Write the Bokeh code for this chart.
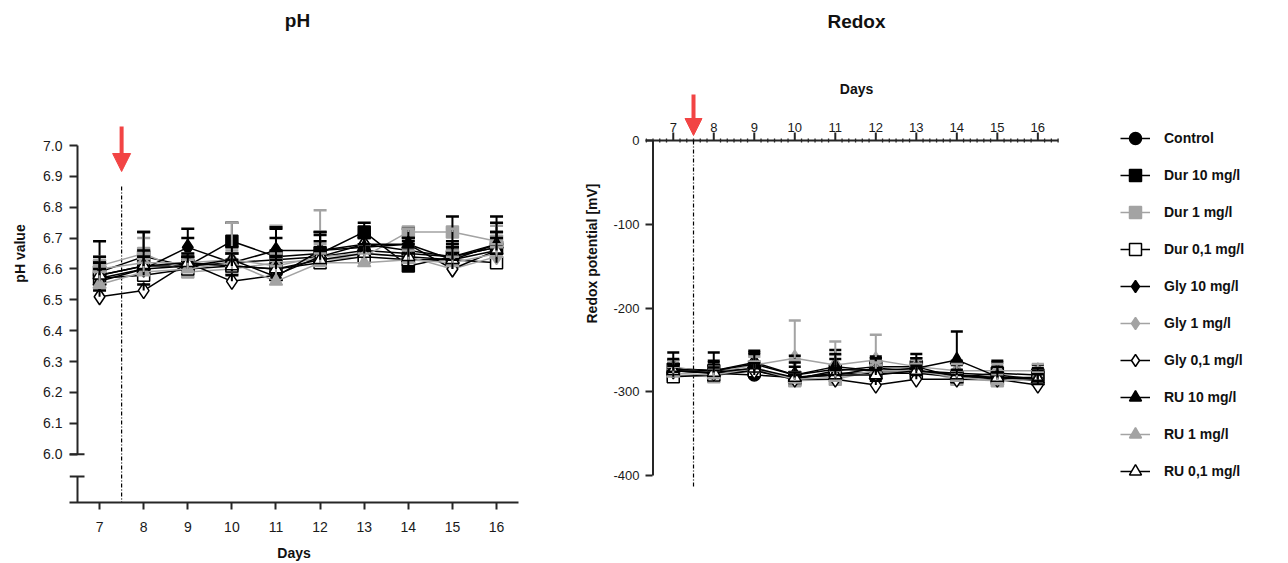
from bokeh.plotting import figure
from bokeh.layouts import row
from bokeh.models import (ColumnDataSource, Whisker, TeeHead, Arrow, NormalHead, Legend,
                          LegendItem, FixedTicker, Range1d, PrintfTickFormatter)
from bokeh.core.properties import value
from bokeh.embed import file_html
from bokeh.resources import INLINE

# ---------------- data ----------------
days = [7, 8, 9, 10, 11, 12, 13, 14, 15, 16]
series_names = ["Control", "Dur 10 mg/l", "Dur 1 mg/l", "Dur 0,1 mg/l", "Gly 10 mg/l",
                "Gly 1 mg/l", "Gly 0,1 mg/l", "RU 10 mg/l", "RU 1 mg/l", "RU 0,1 mg/l"]
treatment_day = 7.5
ph_ticks = [6.0, 6.1, 6.2, 6.3, 6.4, 6.5, 6.6, 6.7, 6.8, 6.9, 7.0]
redox_ticks = [0, -100, -200, -300, -400]

ph_control = [6.58, 6.61, 6.61, 6.62, 6.63, 6.64, 6.66, 6.65, 6.64, 6.68]
ph_dur10   = [6.59, 6.64, 6.61, 6.69, 6.64, 6.65, 6.72, 6.61, 6.64, 6.67]
ph_dur1    = [6.61, 6.65, 6.59, 6.60, 6.62, 6.63, 6.64, 6.72, 6.72, 6.69]
ph_dur01   = [6.57, 6.58, 6.60, 6.61, 6.60, 6.62, 6.64, 6.63, 6.63, 6.62]
ph_gly10   = [6.57, 6.60, 6.67, 6.62, 6.66, 6.66, 6.68, 6.66, 6.64, 6.67]
ph_gly1    = [6.60, 6.62, 6.62, 6.63, 6.61, 6.64, 6.65, 6.64, 6.60, 6.64]
ph_gly01   = [6.51, 6.53, 6.62, 6.56, 6.58, 6.64, 6.68, 6.68, 6.60, 6.66]
ph_ru10    = [6.56, 6.60, 6.61, 6.63, 6.575, 6.66, 6.67, 6.68, 6.63, 6.68]
ph_ru1     = [6.55, 6.59, 6.60, 6.62, 6.56, 6.62, 6.62, 6.63, 6.62, 6.65]
ph_ru01    = [6.58, 6.61, 6.62, 6.61, 6.60, 6.63, 6.65, 6.64, 6.63, 6.66]

ph_sd_control = [0.04, 0.03, 0.03, 0.03, 0.03, 0.05, 0.04, 0.03, 0.03, 0.04]
ph_sd_dur10   = [0.10, 0.08, 0.09, 0.06, 0.06, 0.07, 0.03, 0.12, 0.13, 0.10]
ph_sd_dur1    = [0.03, 0.05, 0.04, 0.15, 0.12, 0.16, 0.04, 0.01, 0.01, 0.05]
ph_sd_dur01   = [0.03, 0.02, 0.03, 0.02, 0.03, 0.03, 0.02, 0.02, 0.03, 0.03]
ph_sd_gly10   = [0.05, 0.12, 0.06, 0.03, 0.07, 0.05, 0.03, 0.03, 0.04, 0.05]
ph_sd_gly1    = [0.03, 0.03, 0.03, 0.03, 0.04, 0.04, 0.03, 0.03, 0.04, 0.03]
ph_sd_gly01   = [0.02, 0.02, 0.02, 0.02, 0.03, 0.02, 0.02, 0.02, 0.03, 0.02]
ph_sd_ru10    = [0.08, 0.06, 0.03, 0.04, 0.16, 0.06, 0.04, 0.02, 0.06, 0.07]
ph_sd_ru1     = [0.04, 0.03, 0.03, 0.03, 0.05, 0.03, 0.03, 0.03, 0.04, 0.03]
ph_sd_ru01    = [0.04, 0.03, 0.03, 0.04, 0.04, 0.04, 0.03, 0.03, 0.04, 0.04]

rx_control = [-275, -278, -280, -283, -280, -272, -275, -280, -285, -283]
rx_dur10   = [-273, -275, -273, -285, -275, -270, -270, -283, -278, -280]
rx_dur1    = [-280, -282, -270, -287, -285, -275, -275, -285, -287, -285]
rx_dur01   = [-282, -280, -275, -283, -278, -278, -278, -282, -283, -283]
rx_gly10   = [-272, -275, -265, -280, -273, -275, -275, -278, -280, -285]
rx_gly1    = [-270, -278, -268, -260, -268, -262, -270, -275, -275, -275]
rx_gly01   = [-275, -278, -275, -285, -285, -292, -285, -285, -285, -292]
rx_ru10    = [-273, -275, -267, -280, -270, -275, -272, -262, -282, -287]
rx_ru1     = [-278, -280, -272, -285, -283, -275, -275, -283, -287, -285]
rx_ru01    = [-275, -277, -272, -283, -280, -280, -275, -280, -283, -285]

rx_sd_control = [8, 6, 8, 6, 8, 8, 8, 6, 6, 6]
rx_sd_dur10   = [20, 22, 20, 28, 25, 12, 15, 15, 15, 12]
rx_sd_dur1    = [10, 8, 12, 25, 45, 12, 8, 8, 8, 10]
rx_sd_dur01   = [6, 6, 6, 6, 6, 6, 6, 6, 6, 6]
rx_sd_gly10   = [10, 12, 14, 10, 12, 15, 15, 15, 15, 10]
rx_sd_gly1    = [8, 8, 10, 45, 12, 30, 8, 8, 8, 8]
rx_sd_gly01   = [5, 5, 5, 5, 5, 5, 5, 5, 5, 5]
rx_sd_ru10    = [12, 10, 12, 15, 15, 15, 12, 34, 12, 15]
rx_sd_ru1     = [8, 8, 8, 8, 8, 10, 8, 8, 8, 8]
rx_sd_ru01    = [6, 6, 6, 6, 6, 6, 6, 6, 6, 6]

ph_means = [ph_control, ph_dur10, ph_dur1, ph_dur01, ph_gly10, ph_gly1, ph_gly01, ph_ru10, ph_ru1, ph_ru01]
ph_sds = [ph_sd_control, ph_sd_dur10, ph_sd_dur1, ph_sd_dur01, ph_sd_gly10, ph_sd_gly1, ph_sd_gly01,
          ph_sd_ru10, ph_sd_ru1, ph_sd_ru01]
rx_means = [rx_control, rx_dur10, rx_dur1, rx_dur01, rx_gly10, rx_gly1, rx_gly01, rx_ru10, rx_ru1, rx_ru01]
rx_sds = [rx_sd_control, rx_sd_dur10, rx_sd_dur1, rx_sd_dur01, rx_sd_gly10, rx_sd_gly1, rx_sd_gly01,
          rx_sd_ru10, rx_sd_ru1, rx_sd_ru01]

# ---------------- styles ----------------
BLACK = "#000000"
GRAY = "#a3a3a3"
RED = "#f24444"
AXIS = "#262626"
TXT = "#111111"
FONT = "Liberation Sans"
styles = [  # (marker, fill, line, size)
    ("circle", BLACK, BLACK, 12),
    ("square", BLACK, BLACK, 12),
    ("square", GRAY, GRAY, 12),
    ("square", "white", BLACK, 12),
    ("diamond", BLACK, BLACK, 16),
    ("diamond", GRAY, GRAY, 16),
    ("diamond", "white", BLACK, 16),
    ("triangle", BLACK, BLACK, 13),
    ("triangle", GRAY, GRAY, 13),
    ("triangle", "white", BLACK, 13),
]

FRAME_TOP, FRAME_BOTTOM = 4, 502     # shared frame rows of both panels (px)


def style_axis(ax, size):
    ax.major_label_text_font = FONT
    ax.major_label_text_font_size = size
    ax.major_label_text_color = "#1a1a1a"
    ax.axis_label_text_font = FONT
    ax.axis_label_text_font_style = "bold"
    ax.axis_label_text_font_size = "14px"
    ax.axis_label_text_color = TXT
    ax.major_tick_line_color = AXIS
    ax.major_tick_line_width = 2
    ax.minor_tick_line_color = None
    ax.axis_line_color = AXIS
    ax.axis_line_width = 2


def draw_series(p, means, sds, whisker_width):
    line_rs, marker_rs = [], []
    for (marker, fill, line, size), m, sd in zip(styles, means, sds):
        src = ColumnDataSource(dict(x=days, y=m, upper=[a + b for a, b in zip(m, sd)]))
        w = Whisker(base="x", lower="y", upper="upper", source=src, dimension="height",
                    line_color=line, line_width=2, lower_head=None,
                    upper_head=TeeHead(size=whisker_width, line_color=line, line_width=2.5))
        w.level = "glyph"
        p.add_layout(w)
        lr = p.line("x", "y", source=src, line_color=line, line_width=1.5)
        mr = p.scatter("x", "y", source=src, marker=marker, size=size, fill_color=fill,
                       line_color=line, line_width=1.5)
        line_rs.append(lr)
        marker_rs.append(mr)
    return line_rs, marker_rs


# ======================= pH panel =======================
ph_px = 308.7          # px per pH unit
ph_ref_y = 145         # px row of pH 7.0
day_px1 = 44.11        # px per day
frame_left1 = 69


def ph_at(py):
    return 7.0 + (ph_ref_y - py) / ph_px


x0_1 = 6.5 - 8 / day_px1
p1 = figure(frame_width=449, frame_height=FRAME_BOTTOM - FRAME_TOP,
            min_border_left=frame_left1, min_border_right=57,
            min_border_top=FRAME_TOP, min_border_bottom=61,
            x_range=Range1d(x0_1, x0_1 + 449 / day_px1),
            y_range=Range1d(ph_at(FRAME_BOTTOM), ph_at(FRAME_TOP)),
            output_backend="svg", toolbar_location=None)
p1.grid.visible = False
p1.outline_line_color = None

xa = p1.xaxis[0]
style_axis(xa, "14px")
xa.ticker = FixedTicker(ticks=days)
xa.major_tick_in = 0
xa.major_tick_out = 7
xa.major_label_standoff = 12
xa.axis_label = "Days"
xa.axis_label_standoff = 10

ya = p1.yaxis[0]
style_axis(ya, "14px")
ya.ticker = FixedTicker(ticks=ph_ticks)
ya.formatter = PrintfTickFormatter(format="%.1f")
ya.bounds = (ph_at(FRAME_BOTTOM), 7.0)
ya.major_tick_in = 8
ya.major_tick_out = 0
ya.axis_line_color = None
ya.major_label_standoff = 7
ya.axis_label = "pH value"
ya.axis_label_standoff = 12

y_lo1 = ph_at(FRAME_BOTTOM)
brk = ph_at(476)
stub = 6.5 + 7 / day_px1
# broken y axis: upper part, lower stub, and the break marks
p1.segment(x0=[6.5, 6.5, x0_1, x0_1], y0=[6.0, y_lo1, 6.0, brk],
           x1=[6.5, 6.5, stub, stub], y1=[7.0, brk, 6.0, brk],
           line_color=AXIS, line_width=2)
# treatment marker
p1.segment(x0=[treatment_day], y0=[ph_at(186)], x1=[treatment_day], y1=[y_lo1],
           line_color=BLACK, line_width=1.2, line_dash="4 2 1 2")
p1.add_layout(Arrow(x_start=treatment_day, y_start=ph_at(126), x_end=treatment_day, y_end=ph_at(171),
                    line_color=RED, line_width=4,
                    end=NormalHead(size=18, fill_color=RED, line_color=RED, line_width=1)))

draw_series(p1, ph_means, ph_sds, 13)

p1.text(x=[x0_1 + (297 - frame_left1) / day_px1], y=[ph_at(20)], text=["pH"],
        text_font=value(FONT), text_font_style="bold", text_font_size="19px",
        text_align="center", text_baseline="middle", text_color=TXT)

# ======================= Redox panel =======================
rx_px = 0.8375         # px per mV
rx_ref_y = 140         # px row of 0 mV
day_px2 = 40.51
frame_left2 = 645
frame_w2 = 640


def rx_at(py):
    return (rx_ref_y - py) / rx_px


x0_2 = 6.5 - 7.5 / day_px2
x_axis_end2 = 16.5
p2 = figure(frame_width=frame_w2, frame_height=FRAME_BOTTOM - FRAME_TOP,
            min_border_left=frame_left2 - 575, min_border_right=0,
            min_border_top=FRAME_TOP, min_border_bottom=61,
            x_axis_location=None,
            x_range=Range1d(x0_2, x0_2 + frame_w2 / day_px2),
            y_range=Range1d(rx_at(FRAME_BOTTOM), rx_at(FRAME_TOP)),
            output_backend="svg", toolbar_location=None)
p2.grid.visible = False
p2.outline_line_color = None

yb = p2.yaxis[0]
style_axis(yb, "13px")
yb.ticker = FixedTicker(ticks=redox_ticks)
yb.formatter = PrintfTickFormatter(format="%d")
yb.bounds = (rx_at(492), 0)
yb.major_tick_in = 7
yb.major_tick_out = 0
yb.axis_line_color = None
yb.major_label_standoff = 6
yb.axis_label = "Redox potential [mV]"
yb.axis_label_standoff = 10

# y axis line
p2.segment(x0=[6.5], y0=[redox_ticks[-1]], x1=[6.5], y1=[redox_ticks[0]], line_color=AXIS, line_width=2)

# top "Days" axis drawn at 0 mV
minor = [7 + k / 6 for k in range(-4, 58) if k % 6 != 0]
p2.segment(x0=[x0_2], y0=[0], x1=[x_axis_end2], y1=[0], line_color=AXIS, line_width=2)
p2.segment(x0=days, y0=[0] * len(days), x1=days, y1=[8 / rx_px] * len(days),
           line_color=AXIS, line_width=2)
p2.segment(x0=minor, y0=[-2 / rx_px] * len(minor), x1=minor, y1=[2 / rx_px] * len(minor),
           line_color=AXIS, line_width=1.3)
p2.text(x=days, y=[rx_at(127)] * len(days), text=[str(d) for d in days],
        text_font=value(FONT), text_font_size="13px", text_align="center",
        text_baseline="middle", text_color="#1a1a1a")
x_mid2 = x0_2 + (856 - frame_left2) / day_px2
p2.text(x=[x_mid2], y=[rx_at(88)], text=["Days"],
        text_font=value(FONT), text_font_style="bold", text_font_size="14px",
        text_align="center", text_baseline="middle", text_color=TXT)
p2.text(x=[x_mid2], y=[rx_at(21)], text=["Redox"],
        text_font=value(FONT), text_font_style="bold", text_font_size="19px",
        text_align="center", text_baseline="middle", text_color=TXT)

# treatment marker
p2.segment(x0=[treatment_day], y0=[0], x1=[treatment_day], y1=[rx_at(487)],
           line_color=BLACK, line_width=1.2, line_dash="4 2 1 2")
p2.add_layout(Arrow(x_start=treatment_day, y_start=rx_at(94), x_end=treatment_day, y_end=rx_at(135),
                    line_color=RED, line_width=4,
                    end=NormalHead(size=17, fill_color=RED, line_color=RED, line_width=1)))

line_rs, marker_rs = draw_series(p2, rx_means, rx_sds, 12)

legend = Legend(items=[LegendItem(label=n, renderers=[lr, mr])
                       for n, lr, mr in zip(series_names, line_rs, marker_rs)],
                location=(1120 - frame_left2, FRAME_BOTTOM - 486),
                glyph_width=30, glyph_height=30, label_height=20,
                spacing=7, padding=0, margin=0, label_standoff=14,
                border_line_color=None, background_fill_alpha=0,
                label_text_font=FONT, label_text_font_style="bold", label_text_font_size="14px",
                label_text_color=TXT)
p2.add_layout(legend)

layout = row(p1, p2)
open("out.html", "w").write(file_html(layout, INLINE))
